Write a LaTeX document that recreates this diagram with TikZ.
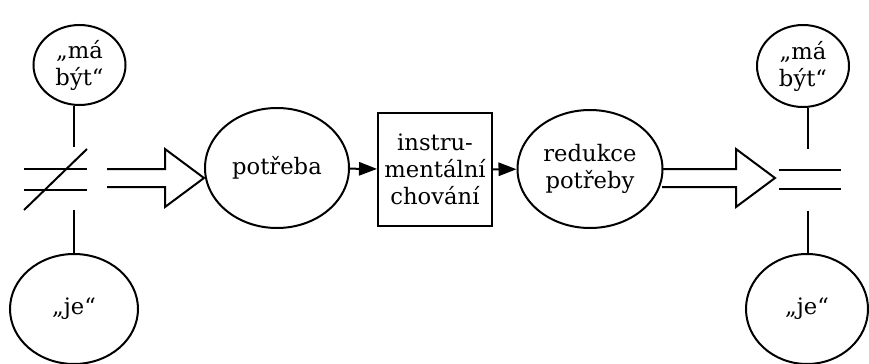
\documentclass[tikz,border=0pt]{standalone}
\usepackage{fontspec}
\setmainfont{DejaVu Serif}
\usepackage{tikz}
\usetikzlibrary{arrows.meta,calc,shapes.geometric}

% hollow block arrow between two points
\newcommand{\fatarrow}[2]{%
  \draw[fat] ($(#1)+(0,-9)$) -- ($(#2)+(-39,-9)$) -- ($(#2)+(-39,-29)$) -- (#2)
    -- ($(#2)+(-39,29)$) -- ($(#2)+(-39,9)$) -- ($(#1)+(0,9)$);}

\begin{document}
\begin{tikzpicture}[x=0.75pt, y=-0.75pt, line width=1.5pt,
                    every node/.style={font=\fontsize{17}{20.3}\selectfont, inner sep=0pt, align=center},
                    oval/.style={draw, ellipse}, sign/.style={minimum width=45.75pt, minimum height=44.25pt},
                    edge/.style={line width=1.5pt}, arrow/.style={-{Triangle[length=13.5pt, width=10pt]}},
                    fat/.style={line width=1.5pt, line join=miter}]
\useasboundingbox (0,0) rectangle (869,364);

% Left side
\node[oval, minimum width=69pt, minimum height=60pt] (mab1) at (79.5,65) {„má\\být“};
\node[oval, minimum width=96pt, minimum height=82.5pt] (je1) at (74,309) {„je“};
\node[sign] (neq) at (55.5,179.5) {};
\draw[edge] ($(neq.west)+(0,-10.5)$) -- ($(neq.east)+(0,-10.5)$);
\draw[edge] ($(neq.west)+(0,10.5)$) -- ($(neq.east)+(0,10.5)$);
\draw[edge] (neq.south west) -- (neq.north east);
\draw[edge] (je1 |- mab1.south) -- ($(je1 |- neq.north)+(0,-2)$);
\draw[edge] (je1 |- neq.south) -- (je1.north);

% Middle row
\node[oval, minimum width=108pt, minimum height=90pt] (potreba) at (277,168) {potřeba};
\node[draw, minimum width=85.5pt, minimum height=84.75pt] (chovani) at (435,169.5) {instru-\\mentální\\chování};
\node[oval, minimum width=108.75pt, minimum height=88.5pt] (redukce) at (590,169) {redukce\\potřeby};
\draw[arrow] (potreba) -- (chovani);
\draw[arrow] (chovani) -- (redukce);

% Block arrows
\coordinate (A1) at (107,178);
\coordinate (A2) at (204,178);
\coordinate (B1) at (662,178);
\coordinate (B2) at (775,178);
\fatarrow{A1}{A2}
\fatarrow{B1}{B2}

% Right side
\node[oval, minimum width=69pt, minimum height=61.5pt] (mab2) at (803,66) {„má\\být“};
\node[oval, minimum width=91.5pt, minimum height=82.5pt] (je2) at (807,309) {„je“};
\node[sign, minimum width=45pt, minimum height=45pt] (eq) at (810,179.5) {};
\draw[edge] ($(eq.west)+(0,-9.5)$) -- ($(eq.east)+(0,-9.5)$);
\draw[edge] ($(eq.west)+(0,9.5)$) -- ($(eq.east)+(0,9.5)$);
\draw[edge] ($(je2 |- mab2.south)+(1,0)$) -- ($(je2 |- eq.north)+(1,0)$);
\draw[edge] ($(je2 |- eq.south)+(1,0)$) -- ($(je2.north)+(1,0)$);

\end{tikzpicture}
\end{document}
